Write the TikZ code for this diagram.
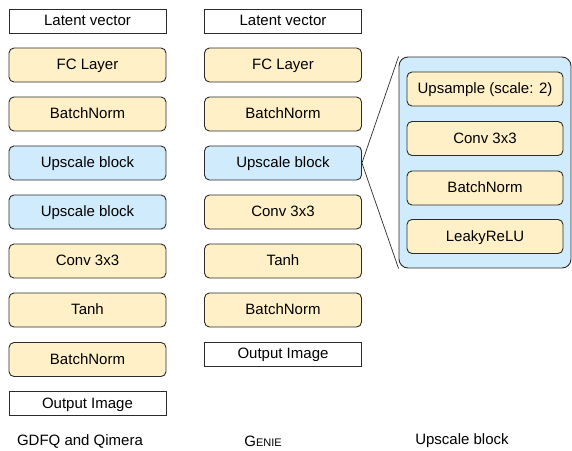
\documentclass[tikz,border=0pt]{standalone}
\usepackage{fontspec}
\setmainfont{Liberation Sans}
\definecolor{layerfill}{HTML}{FFF0C8}
\definecolor{upfill}{HTML}{D0EBFC}
\definecolor{edge}{HTML}{2B2B2B}
\begin{document}
\begin{tikzpicture}[x=1pt,y=-1pt,
  font=\fontsize{15}{18}\selectfont,
  layer/.style={draw=edge,line width=0.9pt,rounded corners=5pt,fill=layerfill,minimum width=157pt,minimum height=34pt,inner sep=0pt,text height=11pt,text depth=2pt},
  upblock/.style={layer,fill=upfill},
  io/.style={draw=edge,line width=0.9pt,fill=white,minimum width=157pt,minimum height=24pt,inner sep=0pt,text height=11pt,text depth=2pt},
  caption/.style={font=\fontsize{15}{18}\selectfont}]
\useasboundingbox (0,0) rectangle (572,450);
\node[io] (inA) at (87.5,21) {Latent vector};
\node[layer] (fcA) at (87.5,65) {FC Layer};
\node[layer] (bnA) at (87.5,114) {BatchNorm};
\node[upblock] (upA) at (87.5,163) {Upscale block};
\node[upblock] (upB) at (87.5,212) {Upscale block};
\node[layer] (convA) at (87.5,261) {Conv 3x3};
\node[layer] (tanhA) at (87.5,310) {Tanh};
\node[layer] (bnoutA) at (87.5,359.5) {BatchNorm};
\node[io] (outA) at (87.5,403.5) {Output Image};
\node[io] (inG) at (283,21) {Latent vector};
\node[layer] (fcG) at (283,65) {FC Layer};
\node[layer] (bnG) at (283,114) {BatchNorm};
\node[upblock] (upG) at (283,163) {Upscale block};
\node[layer] (convG) at (283,212) {Conv 3x3};
\node[layer] (tanhG) at (283,261) {Tanh};
\node[layer] (bnoutG) at (283,310) {BatchNorm};
\node[io] (outG) at (283,354) {Output Image};
\node[upblock,rounded corners=9pt,minimum width=172pt,minimum height=211pt] (panel) at (485,162.5) {};
\node[layer,minimum width=156pt] (upsmp) at (485,89) {Upsample (scale: 2)};
\node[layer,minimum width=156pt] (convU) at (485,138.5) {Conv 3x3};
\node[layer,minimum width=156pt] (bnU) at (485,188) {BatchNorm};
\node[layer,minimum width=156pt] (reluU) at (485,236.5) {LeakyReLU};
\draw[edge,line width=0.7pt] (upG.east) -- (panel.north west);
\draw[edge,line width=0.7pt] (upG.east) -- (panel.south west);
\node[caption] (capA) at (80,441) {GDFQ and Qimera};
\node[caption] (capG) at (263,441) {G{\fontsize{11}{13}\selectfont ENIE}};
\node[caption] (capU) at (462,441) {Upscale block};
\end{tikzpicture}
\end{document}
